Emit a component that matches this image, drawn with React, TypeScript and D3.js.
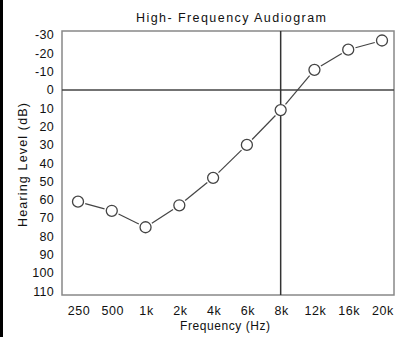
import React from "react";
import * as d3 from "d3";

const frequencies = ["250", "500", "1k", "2k", "4k", "6k", "8k", "12k", "16k", "20k"];
const hearingLevels = [61, 66, 75, 63, 48, 30, 11, -11, -22, -27];
const yTicks = [-30, -20, -10, 0, 10, 20, 30, 40, 50, 60, 70, 80, 90, 100, 110];
const refFrequency = "8k";

const W = 396;
const H = 337;
const left = 62;
const right = 394;
const top = 31;
const bottom = 295;
const FONT = "'Liberation Sans', Arial, sans-serif";

export default function App() {
  const x = d3.scalePoint<string>().domain(frequencies).range([78, 382]);
  const y = d3.scaleLinear().domain([-32.2, 112]).range([top, bottom]);
  const r = 5.5;
  const pts = frequencies.map((f, i) => ({ x: x(f) as number, y: y(hearingLevels[i]) }));
  const segs = pts.slice(1).map((p, i) => {
    const a = pts[i];
    const dx = p.x - a.x;
    const dy = p.y - a.y;
    const len = Math.sqrt(dx * dx + dy * dy);
    const g = r + 2;
    return {
      x1: a.x + (dx / len) * g,
      y1: a.y + (dy / len) * g,
      x2: p.x - (dx / len) * g,
      y2: p.y - (dy / len) * g,
    };
  });
  return (
    <svg
      width={W}
      height={H}
      style={{ position: "absolute", left: 0, top: 0, background: "#fff" }}
      fontFamily={FONT}
    >
      <rect x={0} y={0} width={W} height={H} fill="#fff" />
      <rect x={0} y={0} width={3} height={H} fill="#000" />
      <text x={231} y={22} textAnchor="middle" fontSize={12.5} fill="#111" textLength={190} lengthAdjust="spacing">
        High- Frequency Audiogram
      </text>
      <rect x={left} y={top} width={right - left} height={bottom - top} fill="none" stroke="#888" strokeWidth={1.5} />
      <line x1={left} x2={right} y1={y(0)} y2={y(0)} stroke="#444" strokeWidth={1.5} />
      <line x1={x(refFrequency)} x2={x(refFrequency)} y1={top} y2={bottom} stroke="#333" strokeWidth={1.5} />
      {yTicks.map((t) => (
        <text key={t} x={54} y={y(t)} dy="0.35em" textAnchor="end" fontSize={12.5} fill="#111" letterSpacing={0.3}>
          {t}
        </text>
      ))}
      {frequencies.map((f) => (
        <text key={f} x={x(f) + 1} y={315} textAnchor="middle" fontSize={12.5} fill="#111" letterSpacing={0.6}>
          {f}
        </text>
      ))}
      <text x={225} y={330} textAnchor="middle" fontSize={12} fill="#111" textLength={90} lengthAdjust="spacing">
        Frequency (Hz)
      </text>
      <text transform={`translate(27, 165) rotate(-90)`} textAnchor="middle" fontSize={12.5} fill="#111" textLength={124} lengthAdjust="spacing">
        Hearing Level (dB)
      </text>
      {segs.map((s, i) => (
        <line key={i} x1={s.x1} y1={s.y1} x2={s.x2} y2={s.y2} stroke="#444" strokeWidth={1.2} />
      ))}
      {pts.map((p, i) => (
        <circle key={i} cx={p.x} cy={p.y} r={r} fill="#fff" stroke="#444" strokeWidth={1.3} />
      ))}
    </svg>
  );
}
